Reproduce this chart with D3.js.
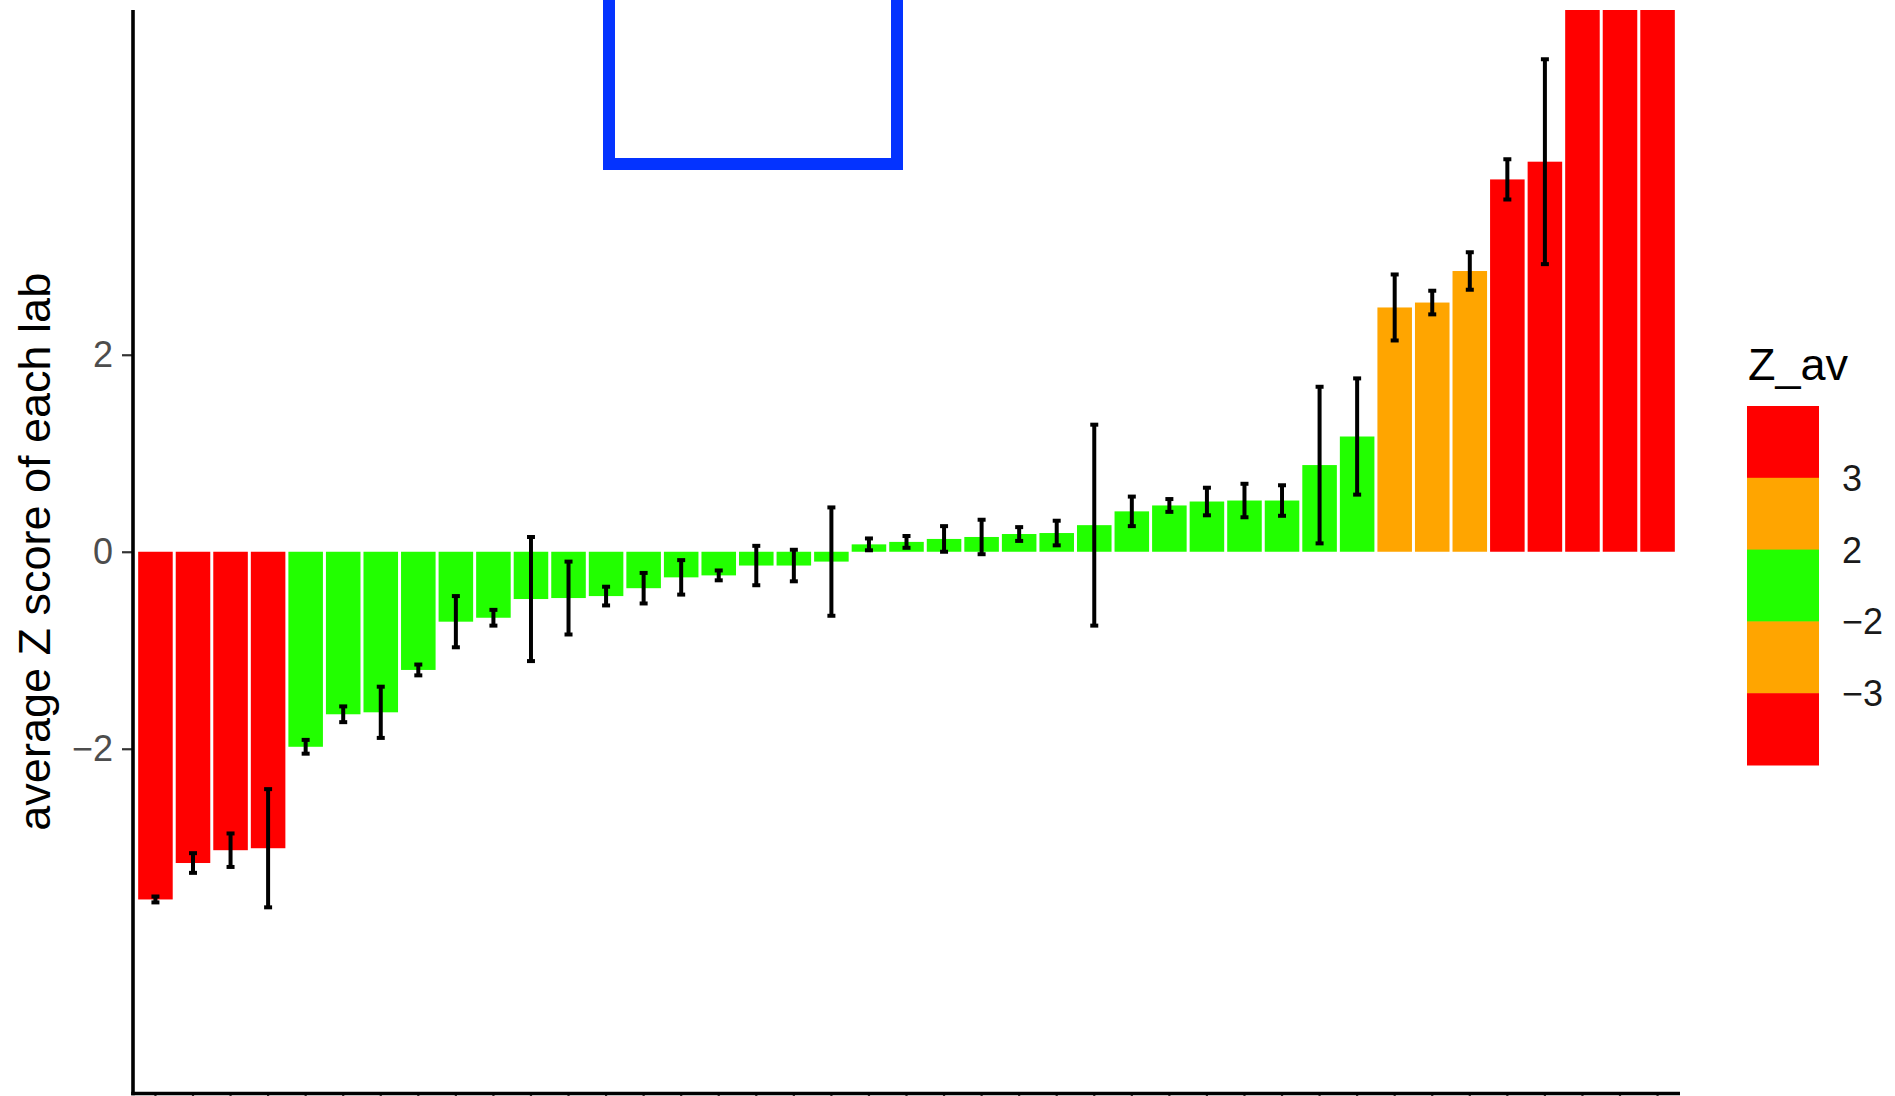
<!DOCTYPE html>
<html>
<head>
<meta charset="utf-8">
<script src="https://cdn.jsdelivr.net/npm/d3@7/dist/d3.min.js"></script>
<style>
  html, body { margin: 0; padding: 0; background: #fff; }
  svg { display: block; font-family: "Liberation Sans", Arial, Helvetica, sans-serif; }
</style>
</head>
<body>
<svg id="chart" width="1895" height="1096"></svg>
<script>
// Labs, ordered by their average Z score
const labs = d3.range(1, 42).map(i => "L" + String(i).padStart(2, "0"));

// Average Z score of each lab
const zAvg = [
  -3.53, -3.16, -3.03, -3.01, -1.98, -1.65, -1.63, -1.20, -0.71, -0.67,
  -0.48, -0.47, -0.45, -0.37, -0.26, -0.24, -0.14, -0.14, -0.10, 0.075,
   0.10,  0.13,  0.15,  0.18,  0.19,  0.27,  0.41,  0.47,  0.51,  0.52,
   0.52,  0.88,  1.17,  2.48,  2.53,  2.85,  3.78,  3.96,  6.80,  8.10,
  10.40
];

// Half-width of the error bar around each average
const zErr = [
  0.03, 0.10, 0.17, 0.60, 0.07, 0.08, 0.26, 0.055, 0.26, 0.08,
  0.63, 0.37, 0.095, 0.155, 0.175, 0.05, 0.20, 0.16, 0.55, 0.06,
  0.06, 0.13, 0.175, 0.07, 0.125, 1.02, 0.15, 0.065, 0.14, 0.17,
  0.155, 0.795, 0.59, 0.335, 0.12, 0.19, 0.205, 1.04, 0.30, 0.30,
  0.30
];

// Z_av classes: cut points and the colour of each class
const zBreaks = [-3, -2, 2, 3];
const zColours = ["#FF0000", "#FFA500", "#22FF00", "#FFA500", "#FF0000"];
const legendLabels = ["3", "2", "\u22122", "\u22123"];

// Y axis
const yDomain = [-5.5, 5.5];
const yTicks = [-2, 0, 2];
const yTitle = "average Z score of each lab";
const legendTitle = "Z_av";

const data = labs.map((lab, i) => ({ lab, z: zAvg[i], err: zErr[i] }));

const svg = d3.select("#chart");
const panel = { left: 133, right: 1680, top: 10, bottom: 1093.5 };
const unit = (panel.right - panel.left) / (labs.length + 1.2);

const x = d3.scaleBand()
  .domain(labs)
  .range([panel.left + 0.1 * unit, panel.right - 0.1 * unit])
  .paddingInner(0.08)
  .paddingOuter(0.04);

const y = d3.scaleLinear().domain(yDomain).range([panel.bottom, panel.top]);
const colour = d3.scaleThreshold().domain(zBreaks).range(zColours);

svg.append("defs").append("clipPath").attr("id", "panel-clip")
  .append("rect")
  .attr("x", panel.left).attr("y", panel.top)
  .attr("width", panel.right - panel.left)
  .attr("height", panel.bottom - panel.top);

const plot = svg.append("g").attr("clip-path", "url(#panel-clip)");

// Bars
plot.selectAll("rect.bar").data(data).join("rect")
  .attr("class", "bar")
  .attr("x", d => x(d.lab))
  .attr("width", x.bandwidth())
  .attr("y", d => y(Math.max(0, d.z)))
  .attr("height", d => Math.abs(y(d.z) - y(0)))
  .attr("fill", d => colour(d.z));

// Error bars
const capHalf = 4;
const eb = plot.selectAll("g.err").data(data).join("g")
  .attr("class", "err")
  .attr("transform", d => `translate(${x(d.lab) + x.bandwidth() / 2},0)`)
  .attr("stroke", "#000")
  .attr("stroke-width", 4);
eb.append("line")
  .attr("y1", d => y(d.z - d.err)).attr("y2", d => y(d.z + d.err));
eb.append("line")
  .attr("x1", -capHalf).attr("x2", capHalf)
  .attr("y1", d => y(d.z - d.err)).attr("y2", d => y(d.z - d.err));
eb.append("line")
  .attr("x1", -capHalf).attr("x2", capHalf)
  .attr("y1", d => y(d.z + d.err)).attr("y2", d => y(d.z + d.err));

// Y axis
const yAxis = svg.append("g")
  .attr("transform", `translate(${panel.left},0)`)
  .call(d3.axisLeft(y).tickValues(yTicks).tickSize(11).tickPadding(9)
    .tickFormat(d => d < 0 ? "\u2212" + Math.abs(d) : String(d)));
yAxis.select(".domain").remove();
yAxis.selectAll(".tick line").attr("stroke", "#333").attr("stroke-width", 2.2);
yAxis.selectAll(".tick text")
  .attr("fill", "#4D4D4D")
  .style("font-size", "36px");

// X axis (ticks only, the lab names sit below the frame)
const xAxis = svg.append("g")
  .attr("transform", `translate(0,${panel.bottom})`)
  .call(d3.axisBottom(x).tickSize(11).tickFormat(() => ""));
xAxis.select(".domain").remove();
xAxis.selectAll(".tick line").attr("stroke", "#333").attr("stroke-width", 2.2);

// Axis lines
svg.append("line")
  .attr("x1", panel.left).attr("x2", panel.left)
  .attr("y1", panel.top).attr("y2", panel.bottom + 1.8)
  .attr("stroke", "#000").attr("stroke-width", 3.6);
svg.append("line")
  .attr("x1", panel.left - 1.8).attr("x2", panel.right)
  .attr("y1", panel.bottom).attr("y2", panel.bottom)
  .attr("stroke", "#000").attr("stroke-width", 3.6);

// Y axis title
svg.append("text")
  .attr("transform", `translate(50,${(panel.top + panel.bottom) / 2}) rotate(-90)`)
  .attr("text-anchor", "middle")
  .attr("fill", "#000")
  .style("font-size", "45px")
  .text(yTitle);

// Legend: stepped colour bar for Z_av
const legend = svg.append("g");
legend.append("text")
  .attr("x", 1748).attr("y", 380)
  .attr("fill", "#000")
  .style("font-size", "45px")
  .text(legendTitle);

const bins = zColours.map((c, i) => ({ i, c })).reverse();
const ly = d3.scaleBand().domain(bins.map(b => b.i)).range([406, 765]);
legend.selectAll("rect").data(bins).join("rect")
  .attr("x", 1747).attr("width", 72)
  .attr("y", d => ly(d.i)).attr("height", ly.bandwidth() + 0.5)
  .attr("fill", d => d.c);
legend.selectAll("text.lab").data(legendLabels).join("text")
  .attr("class", "lab")
  .attr("x", 1842)
  .attr("y", (d, i) => 406 + (i + 1) * ly.step())
  .attr("dy", "0.36em")
  .attr("fill", "#1A1A1A")
  .style("font-size", "36px")
  .text(d => d);

// Highlight frame at the top of the chart
svg.append("rect")
  .attr("x", 609).attr("y", -20)
  .attr("width", 288).attr("height", 184)
  .attr("fill", "none")
  .attr("stroke", "#0433FF")
  .attr("stroke-width", 12);
</script>
</body>
</html>
